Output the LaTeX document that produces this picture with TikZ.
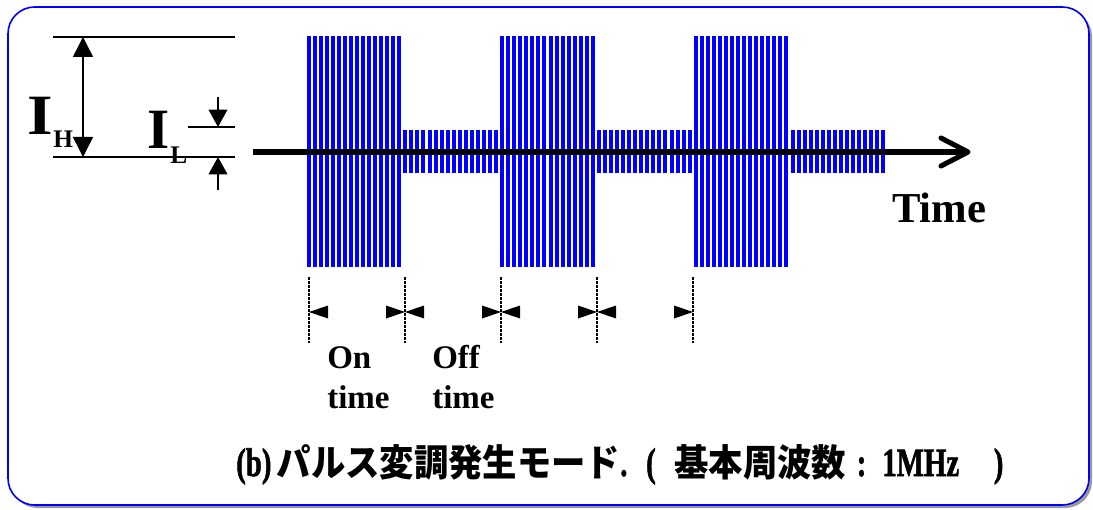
\documentclass[tikz,border=0pt]{standalone}
\usepackage{fontspec}
\usepackage{graphicx}
\setmainfont{Liberation Serif}
\newfontfamily\latcap{Liberation Serif}[BoldFeatures={FakeBold=1.6}]
\newfontfamily\cjkfont{Noto Sans CJK JP}
\usetikzlibrary{arrows.meta}
\newcommand\latc[1]{\scalebox{0.72}[1]{\latcap\fontsize{30}{36}\selectfont\bfseries #1}}
\newcommand\cjkb[1]{\scalebox{0.92}[1]{\cjkfont\bfseries\fontsize{28}{32}\selectfont #1}}
\begin{document}
\begin{tikzpicture}[x=0.75pt,y=-0.75pt,
  frame/.style={draw=blue,line width=1.2pt,fill=white,rounded corners=20pt},
  shade/.style={fill=black!40,rounded corners=20pt},
  thin/.style={draw=black,line width=1.1pt},
  wbar/.style={draw=blue,line width=3pt},
  axisline/.style={draw=black,line width=4.5pt},
  chev/.style={draw=black,line width=3.8pt,line cap=round,line join=round},
  dotline/.style={draw=black,line width=2pt,dash pattern=on 2pt off 1pt},
  tri/.style={fill=black},
  bigI/.style={font=\fontsize{42.75}{50}\selectfont\bfseries,inner sep=0pt,anchor=base west},
  subI/.style={font=\fontsize{19}{22}\selectfont\bfseries,inner sep=0pt,anchor=base west},
  lbl/.style={font=\fontsize{24.75}{30}\selectfont\bfseries,inner sep=0pt,anchor=base west},
]
\useasboundingbox (0,0) rectangle (1093,510);
% frame with shadow
\path[shade] (11,10) rectangle (1092,508);
\path[frame] (8,7) rectangle (1089,505);

% level lines
\coordinate (hTopL) at (53,37);   \coordinate (hTopR) at (235,37);
\coordinate (hBotL) at (53,157);  \coordinate (hBotR) at (235,157);
\coordinate (lTopL) at (188,127); \coordinate (lTopR) at (235,127);
\draw[thin] (hTopL) -- (hTopR);
\draw[thin] (hBotL) -- (hBotR);
\draw[thin] (lTopL) -- (lTopR);
% I_H double arrow
\coordinate (ihA) at (83,37); \coordinate (ihB) at (83,157);
\draw[thin,{Triangle[length=15pt,width=15pt]}-{Triangle[length=15pt,width=15pt]}] (ihA) -- (ihB);
% I_L arrows
\coordinate (ilA0) at (218,97);  \coordinate (ilA1) at (218,127);
\coordinate (ilB0) at (218,190); \coordinate (ilB1) at (218,157);
\draw[thin,-{Triangle[length=13pt,width=14pt]}] (ilA0) -- (ilA1);
\draw[thin,-{Triangle[length=13pt,width=14pt]}] (ilB0) -- (ilB1);
% labels
\node[bigI] (IH) at (27,135) {\scalebox{1.15}[1]{I}};
\node[subI] (IHs) at (53,147) {H};
\node[bigI] (IL) at (147,148) {I};
\node[subI] (ILs) at (170,163) {L};

% waveform
\foreach \s/\a in {305.5/115.5, 402.3/21.5, 499.1/115.5, 595.9/21.5, 692.7/115.5, 789.5/21.5} {
  \foreach \k in {0,...,15} {
    \draw[wbar] ({\s+6.05*(\k+0.5)},{151.5-\a}) -- ({\s+6.05*(\k+0.5)},{151.5+\a});
  }
}
% time axis
\coordinate (ax0) at (253,152);
\coordinate (ax1) at (966,152);
\draw[axisline] (ax0) -- (ax1);
\draw[chev] (941,138) -- (968,152) -- (941,166);
\node[font=\fontsize{32}{38}\selectfont\bfseries,inner sep=0pt,anchor=base west] (time) at (892,222) {Time};

% dotted markers and arrowheads
\foreach \x/\n in {309/m1,405/m2,501/m3,597/m4,693/m5} {
  \coordinate (\n t) at (\x,277);
  \coordinate (\n b) at (\x,343);
  \draw[dotline] (\n t) -- (\n b);
}
% left-pointing heads (to the right of a marker)
\foreach \x in {309,405,501,597} {
  \fill[tri] (\x,312) -- ++(19,-6.5) -- ++(0,13) -- cycle;
}
% right-pointing heads (to the left of a marker)
\foreach \x in {405,501,597,693} {
  \fill[tri] (\x,312) -- ++(-19,-6.5) -- ++(0,13) -- cycle;
}
\node[lbl] (on1) at (327,368) {On};
\node[lbl] (on2) at (327,408) {time};
\node[lbl] (off1) at (432,368) {Off};
\node[lbl] (off2) at (432,408) {time};

% caption
\node[inner sep=0pt,anchor=base west] (cap) at (236,476)
  {\latc{(b)}\hspace{4pt}\cjkb{パルス変調発生モード}\latc{.}\hspace{14pt}\latc{(}\hspace{14pt}\cjkb{基本周波数}\hspace{8pt}\latc{:}\hspace{12pt}\latc{1MHz}\hspace{26pt}\latc{)}};
\end{tikzpicture}
\end{document}
